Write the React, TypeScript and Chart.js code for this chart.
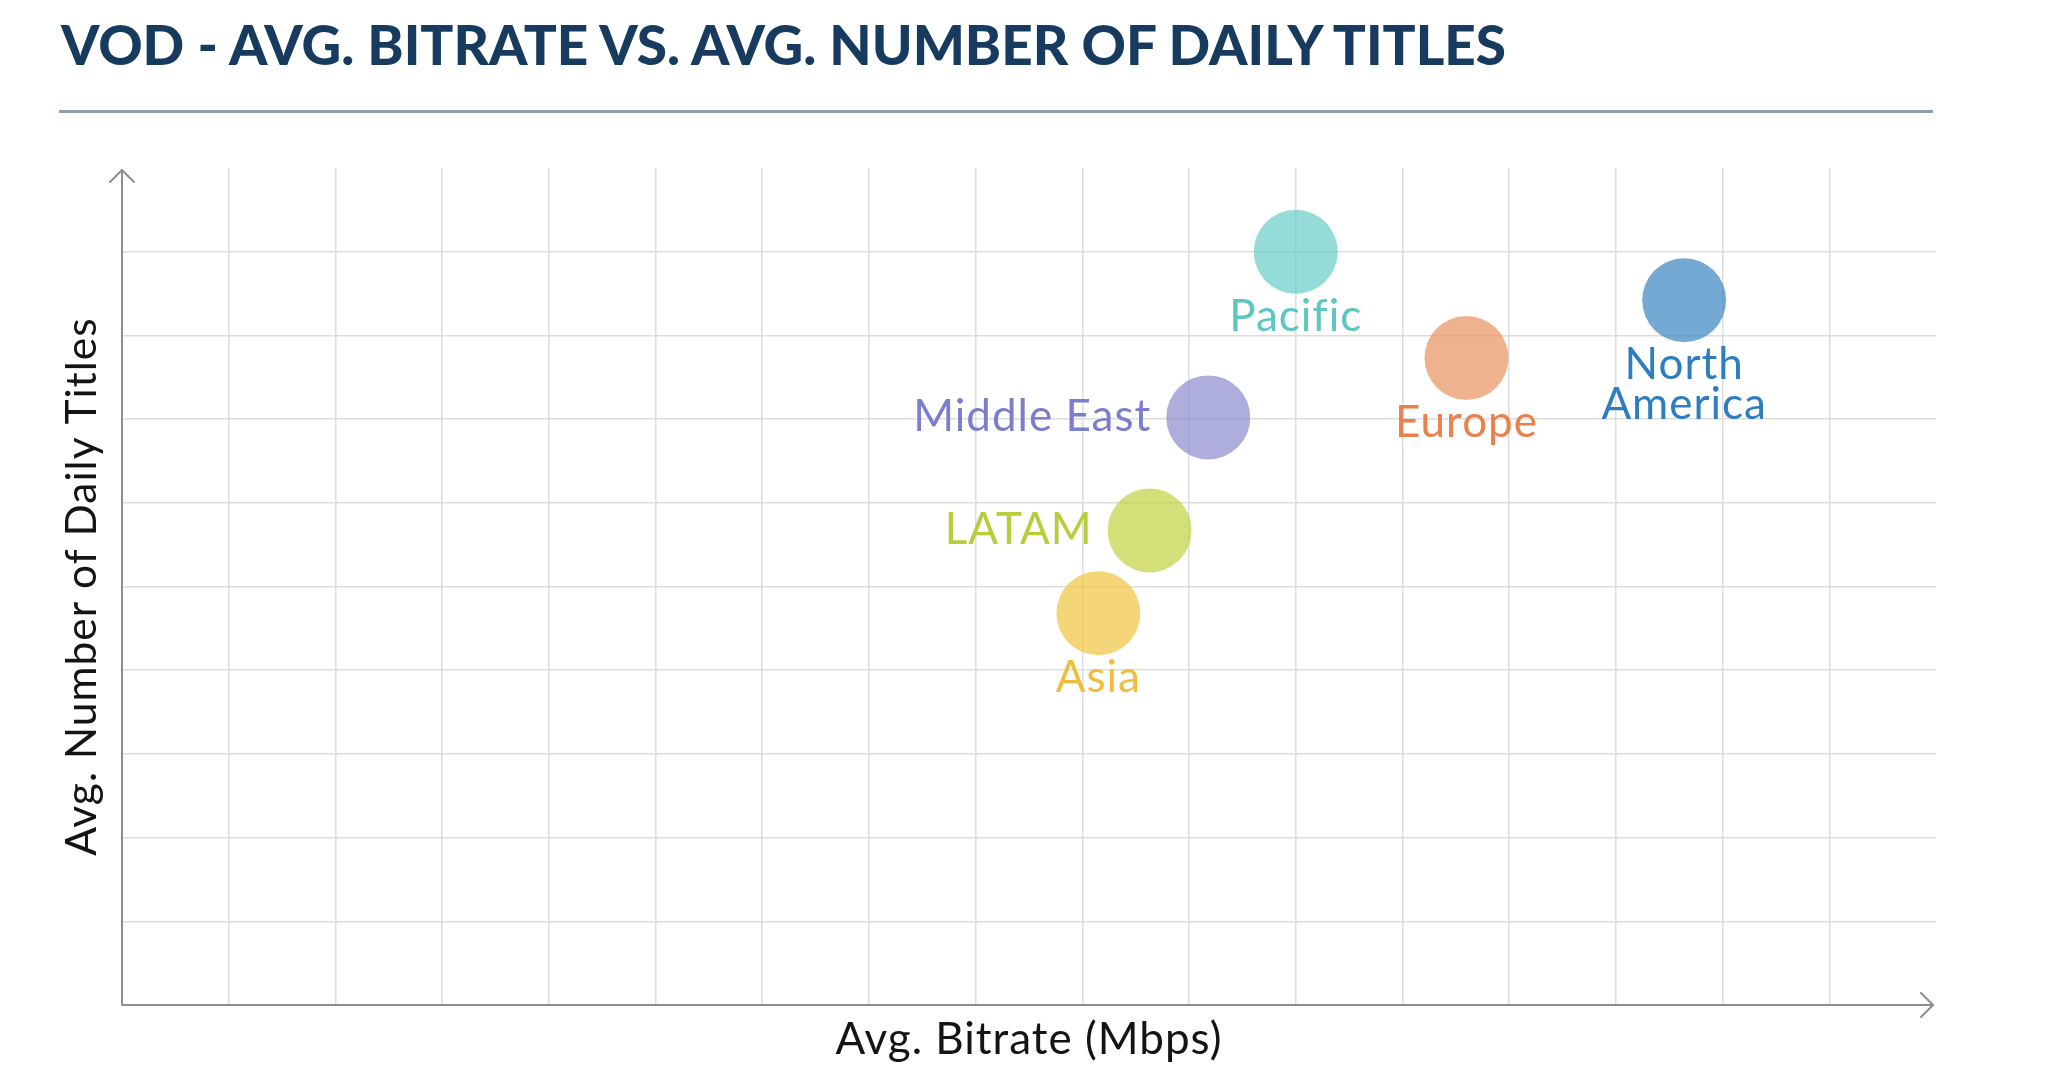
import React, { useEffect, useRef } from "react";
import { Chart, registerables } from "chart.js";

Chart.register(...registerables);

// ---- data ----
const regions = ["Pacific", "North America", "Europe", "Middle East", "LATAM", "Asia"];
const avgBitrate = [11.0, 14.64, 12.6, 10.18, 9.63, 9.15];
const avgDailyTitles = [9.0, 8.42, 7.73, 7.02, 5.67, 4.68];
const bubbleSizes = [42, 42, 42, 42, 42, 42];
const labelLines = [["Pacific"], ["North", "America"], ["Europe"], ["Middle East"], ["LATAM"], ["Asia"]];
const labelSide = ["below", "below", "below", "left", "left", "below"];
const xMax = 17;
const yMax = 10;

const fillColors = [
  "rgba(104,205,201,0.7)",
  "rgba(56,132,191,0.7)",
  "rgba(232,145,95,0.7)",
  "rgba(138,139,205,0.7)",
  "rgba(194,209,65,0.7)",
  "rgba(239,195,61,0.7)",
];
const textColors = ["#5cc6c1", "#2e7dc0", "#e9814c", "#7b7ecb", "#b8cc3c", "#f0be3c"];

const TITLE = "VOD - AVG. BITRATE VS. AVG. NUMBER OF DAILY TITLES";

const overlayPlugin = {
  id: "overlay",
  beforeDraw(chart: any) {
    (chart.ctx as any).letterSpacing = "1px";
  },
  afterDatasetsDraw(chart: any) {
    const ctx = chart.ctx as CanvasRenderingContext2D;
    const { left, right, top, bottom } = chart.chartArea;
    ctx.save();
    // axes with arrows
    ctx.strokeStyle = "#8e8e8e";
    ctx.lineWidth = 2;
    ctx.lineCap = "round";
    ctx.lineJoin = "round";
    ctx.beginPath();
    ctx.moveTo(left, top + 2);
    ctx.lineTo(left, bottom);
    ctx.lineTo(right - 3, bottom);
    ctx.stroke();
    ctx.beginPath();
    ctx.moveTo(left - 12, top + 14);
    ctx.lineTo(left, top + 2);
    ctx.lineTo(left + 12, top + 14);
    ctx.stroke();
    ctx.beginPath();
    ctx.moveTo(right - 15, bottom - 12);
    ctx.lineTo(right - 3, bottom);
    ctx.lineTo(right - 15, bottom + 12);
    ctx.stroke();

    // labels
    const meta = chart.getDatasetMeta(0);
    ctx.font = "44px Lato";
    (ctx as any).letterSpacing = "1px";
    ctx.textBaseline = "alphabetic";
    meta.data.forEach((el: any, i: number) => {
      ctx.fillStyle = textColors[i];
      const lines = labelLines[i];
      if (labelSide[i] === "below") {
        ctx.textAlign = "center";
        lines.forEach((ln, k) => {
          ctx.fillText(ln, el.x, el.y + 79 + k * 40);
        });
      } else {
        ctx.textAlign = "right";
        ctx.fillText(lines[0], el.x - 57, el.y + 14);
      }
    });
    ctx.restore();
  },
  afterDraw(chart: any) {
    (chart.ctx as any).letterSpacing = "0px";
  },
};

export default function App() {
  const canvasRef = useRef<HTMLCanvasElement | null>(null);

  useEffect(() => {
    let chart: Chart | null = null;
    let cancelled = false;
    const make = () => {
      if (cancelled || !canvasRef.current) return;
      const gridColor = (ctx: any, max: number) =>
        ctx.tick && (ctx.tick.value === 0 || ctx.tick.value === max) ? "rgba(0,0,0,0)" : "#dddddd";
      chart = new Chart(canvasRef.current, {
        type: "bubble",
        data: {
          datasets: [
            {
              label: "Regions",
              data: regions.map((_, i) => ({ x: avgBitrate[i], y: avgDailyTitles[i], r: bubbleSizes[i] })),
              backgroundColor: fillColors,
              borderWidth: 0,
              hoverRadius: 0,
            },
          ],
        },
        options: {
          responsive: false,
          animation: false,
          devicePixelRatio: 1,
          layout: { autoPadding: false, padding: { left: 50, top: 168, right: 122, bottom: 23.6 } },
          plugins: { legend: { display: false }, tooltip: { enabled: false }, title: { display: false } },
          scales: {
            x: {
              type: "linear",
              min: 0,
              max: xMax,
              ticks: { display: false, stepSize: 1 },
              grid: { color: (c: any) => gridColor(c, xMax), lineWidth: 1.5, drawTicks: false },
              border: { display: false },
              title: {
                display: true,
                text: "Avg. Bitrate (Mbps)",
                color: "#141414",
                font: { family: "Lato", size: 44 },
                padding: { top: 8.6, bottom: 0 },
              },
            },
            y: {
              type: "linear",
              min: 0,
              max: yMax,
              ticks: { display: false, stepSize: 1 },
              grid: { color: (c: any) => gridColor(c, yMax), lineWidth: 1.5, drawTicks: false },
              border: { display: false },
              title: {
                display: true,
                text: "Avg. Number of Daily Titles",
                color: "#141414",
                font: { family: "Lato", size: 42.5 },
                padding: { top: 6.5, bottom: 14.5 },
              },
            },
          },
        },
        plugins: [overlayPlugin],
      });
    };
    const fonts: any = (document as any).fonts;
    if (fonts && fonts.load) {
      Promise.all([fonts.load("44px Lato"), fonts.load("900 55px Lato")]).then(make, make);
    } else {
      make();
    }
    return () => {
      cancelled = true;
      if (chart) chart.destroy();
    };
  }, []);

  return (
    <div style={{ position: "fixed", left: 0, top: 0, width: 2058, height: 1090, background: "#fff" }}>
      <svg width={2058} height={120} style={{ position: "absolute", left: 0, top: 0 }}>
        <text
          x={61}
          y={65}
          fontFamily="Lato"
          fontWeight={900}
          fontSize={55}
          fill="#173b5f"
          textLength={1445}
          lengthAdjust="spacingAndGlyphs"
        >
          {TITLE}
        </text>
      </svg>
      <div style={{ position: "absolute", left: 59, top: 110, width: 1874, height: 3, background: "#8ca2b5" }} />
      <canvas
        ref={canvasRef}
        width={2058}
        height={1090}
        style={{ position: "absolute", left: 0, top: 0, display: "block" }}
      />
    </div>
  );
}
